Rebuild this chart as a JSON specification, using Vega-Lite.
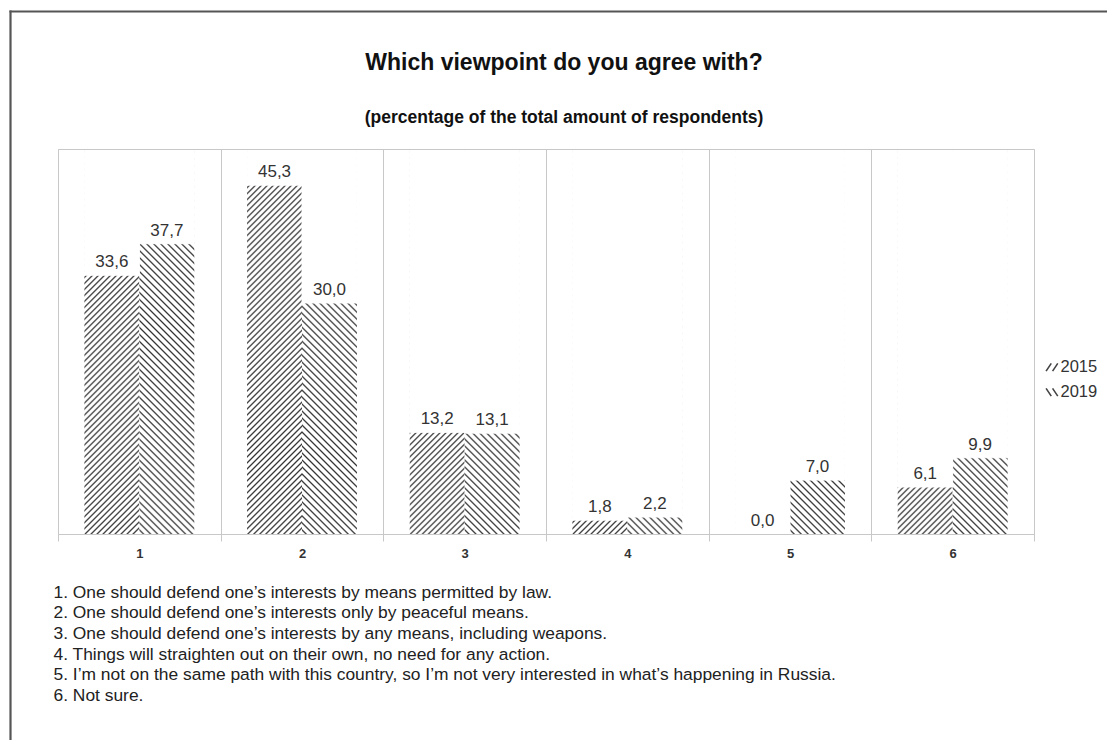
{
  "$schema": "https://vega.github.io/schema/vega-lite/v6.json",
  "width": 976,
  "height": 385,
  "autosize": "none",
  "padding": {"left": 58, "top": 149, "right": 73, "bottom": 206},
  "background": "white",
  "title": {
    "text": "Which viewpoint do you agree with?",
    "subtitle": "(percentage of the total amount of respondents)",
    "anchor": "middle",
    "frame": "group",
    "dx": 18,
    "offset": -115,
    "fontSize": 23,
    "fontWeight": "bold",
    "color": "#111",
    "subtitleFontSize": 17.5,
    "subtitleFontWeight": "bold",
    "subtitleColor": "#111",
    "subtitlePadding": 34
  },
  "data": {
    "values": [
      {"option": "1", "year": "2015", "value": 33.6},
      {"option": "1", "year": "2019", "value": 37.7},
      {"option": "2", "year": "2015", "value": 45.3},
      {"option": "2", "year": "2019", "value": 30.0},
      {"option": "3", "year": "2015", "value": 13.2},
      {"option": "3", "year": "2019", "value": 13.1},
      {"option": "4", "year": "2015", "value": 1.8},
      {"option": "4", "year": "2019", "value": 2.2},
      {"option": "5", "year": "2015", "value": 0.0},
      {"option": "5", "year": "2019", "value": 7.0},
      {"option": "6", "year": "2015", "value": 6.1},
      {"option": "6", "year": "2019", "value": 9.9}
    ]
  },
  "layer": [
    {
      "encoding": {
        "x": {
          "field": "option",
          "type": "nominal",
          "scale": {"paddingInner": 0, "paddingOuter": 0},
          "axis": {
            "title": [
              "1. One should defend one’s interests by means permitted by law.",
              "2. One should defend one’s interests only by peaceful means.",
              "3. One should defend one’s interests by any means, including weapons.",
              "4. Things will straighten out on their own, no need for any action.",
              "5. I’m not on the same path with this country, so I’m not very interested in what’s happening in Russia.",
              "6. Not sure."
            ],
            "titleAnchor": "start",
            "titleAlign": "left",
            "titleBaseline": "alphabetic",
            "titleX": -5,
            "titleY": 63,
            "titleFontSize": 17.4,
            "titleFontWeight": "normal",
            "titleColor": "#222",
            "titleLineHeight": 20.7,
            "labelAngle": 0,
            "labelFontSize": 13,
            "labelFontWeight": "bold",
            "labelColor": "#333",
            "labelPadding": 6,
            "tickBand": "extent",
            "tickSize": 7,
            "tickColor": "#c8c8c8",
            "domainColor": "#c8c8c8",
            "grid": true,
            "gridColor": "#c8c8c8",
            "zindex": 1
          }
        },
        "xOffset": {
          "field": "year",
          "type": "nominal",
          "scale": {"paddingInner": 0, "paddingOuter": 0.48}
        }
      },
      "layer": [
        {
          "transform": [{"filter": "datum.year === '2015'"}],
          "mark": {
            "type": "bar",
            "yOffset": 1,
            "fill": {
              "gradient": "linear",
              "x1": 0, "y1": 0, "x2": 0.1817, "y2": 1.2728,
              "stops": [
                {"offset":0,"color":"#fff"},{"offset":0.0035,"color":"#333"},{"offset":0.007,"color":"#fff"},
                {"offset":0.012,"color":"#fff"},{"offset":0.0155,"color":"#333"},{"offset":0.019,"color":"#fff"},
                {"offset":0.024,"color":"#fff"},{"offset":0.0275,"color":"#333"},{"offset":0.031,"color":"#fff"},
                {"offset":0.036,"color":"#fff"},{"offset":0.0395,"color":"#333"},{"offset":0.043,"color":"#fff"},
                {"offset":0.048,"color":"#fff"},{"offset":0.0515,"color":"#333"},{"offset":0.055,"color":"#fff"},
                {"offset":0.06,"color":"#fff"},{"offset":0.0635,"color":"#333"},{"offset":0.067,"color":"#fff"},
                {"offset":0.072,"color":"#fff"},{"offset":0.0755,"color":"#333"},{"offset":0.079,"color":"#fff"},
                {"offset":0.084,"color":"#fff"},{"offset":0.0875,"color":"#333"},{"offset":0.091,"color":"#fff"},
                {"offset":0.096,"color":"#fff"},{"offset":0.0995,"color":"#333"},{"offset":0.103,"color":"#fff"},
                {"offset":0.108,"color":"#fff"},{"offset":0.1115,"color":"#333"},{"offset":0.115,"color":"#fff"},
                {"offset":0.12,"color":"#fff"},{"offset":0.1235,"color":"#333"},{"offset":0.127,"color":"#fff"},
                {"offset":0.132,"color":"#fff"},{"offset":0.1355,"color":"#333"},{"offset":0.139,"color":"#fff"},
                {"offset":0.144,"color":"#fff"},{"offset":0.1475,"color":"#333"},{"offset":0.151,"color":"#fff"},
                {"offset":0.156,"color":"#fff"},{"offset":0.1595,"color":"#333"},{"offset":0.163,"color":"#fff"},
                {"offset":0.168,"color":"#fff"},{"offset":0.1715,"color":"#333"},{"offset":0.175,"color":"#fff"},
                {"offset":0.18,"color":"#fff"},{"offset":0.1835,"color":"#333"},{"offset":0.187,"color":"#fff"},
                {"offset":0.192,"color":"#fff"},{"offset":0.1955,"color":"#333"},{"offset":0.199,"color":"#fff"},
                {"offset":0.204,"color":"#fff"},{"offset":0.2075,"color":"#333"},{"offset":0.211,"color":"#fff"},
                {"offset":0.216,"color":"#fff"},{"offset":0.2195,"color":"#333"},{"offset":0.223,"color":"#fff"},
                {"offset":0.228,"color":"#fff"},{"offset":0.2315,"color":"#333"},{"offset":0.235,"color":"#fff"},
                {"offset":0.24,"color":"#fff"},{"offset":0.2435,"color":"#333"},{"offset":0.247,"color":"#fff"},
                {"offset":0.252,"color":"#fff"},{"offset":0.2555,"color":"#333"},{"offset":0.259,"color":"#fff"},
                {"offset":0.264,"color":"#fff"},{"offset":0.2675,"color":"#333"},{"offset":0.271,"color":"#fff"},
                {"offset":0.276,"color":"#fff"},{"offset":0.2795,"color":"#333"},{"offset":0.283,"color":"#fff"},
                {"offset":0.288,"color":"#fff"},{"offset":0.2915,"color":"#333"},{"offset":0.295,"color":"#fff"},
                {"offset":0.3,"color":"#fff"},{"offset":0.3035,"color":"#333"},{"offset":0.307,"color":"#fff"},
                {"offset":0.312,"color":"#fff"},{"offset":0.3155,"color":"#333"},{"offset":0.319,"color":"#fff"},
                {"offset":0.324,"color":"#fff"},{"offset":0.3275,"color":"#333"},{"offset":0.331,"color":"#fff"},
                {"offset":0.336,"color":"#fff"},{"offset":0.3395,"color":"#333"},{"offset":0.343,"color":"#fff"},
                {"offset":0.348,"color":"#fff"},{"offset":0.3515,"color":"#333"},{"offset":0.355,"color":"#fff"},
                {"offset":0.36,"color":"#fff"},{"offset":0.3635,"color":"#333"},{"offset":0.367,"color":"#fff"},
                {"offset":0.372,"color":"#fff"},{"offset":0.3755,"color":"#333"},{"offset":0.379,"color":"#fff"},
                {"offset":0.384,"color":"#fff"},{"offset":0.3875,"color":"#333"},{"offset":0.391,"color":"#fff"},
                {"offset":0.396,"color":"#fff"},{"offset":0.3995,"color":"#333"},{"offset":0.403,"color":"#fff"},
                {"offset":0.408,"color":"#fff"},{"offset":0.4115,"color":"#333"},{"offset":0.415,"color":"#fff"},
                {"offset":0.42,"color":"#fff"},{"offset":0.4235,"color":"#333"},{"offset":0.427,"color":"#fff"},
                {"offset":0.432,"color":"#fff"},{"offset":0.4355,"color":"#333"},{"offset":0.439,"color":"#fff"},
                {"offset":0.444,"color":"#fff"},{"offset":0.4475,"color":"#333"},{"offset":0.451,"color":"#fff"},
                {"offset":0.456,"color":"#fff"},{"offset":0.4595,"color":"#333"},{"offset":0.463,"color":"#fff"},
                {"offset":0.468,"color":"#fff"},{"offset":0.4715,"color":"#333"},{"offset":0.475,"color":"#fff"},
                {"offset":0.48,"color":"#fff"},{"offset":0.4835,"color":"#333"},{"offset":0.487,"color":"#fff"},
                {"offset":0.492,"color":"#fff"},{"offset":0.4955,"color":"#333"},{"offset":0.499,"color":"#fff"},
                {"offset":0.504,"color":"#fff"},{"offset":0.5075,"color":"#333"},{"offset":0.511,"color":"#fff"},
                {"offset":0.516,"color":"#fff"},{"offset":0.5195,"color":"#333"},{"offset":0.523,"color":"#fff"},
                {"offset":0.528,"color":"#fff"},{"offset":0.5315,"color":"#333"},{"offset":0.535,"color":"#fff"},
                {"offset":0.54,"color":"#fff"},{"offset":0.5435,"color":"#333"},{"offset":0.547,"color":"#fff"},
                {"offset":0.552,"color":"#fff"},{"offset":0.5555,"color":"#333"},{"offset":0.559,"color":"#fff"},
                {"offset":0.564,"color":"#fff"},{"offset":0.5675,"color":"#333"},{"offset":0.571,"color":"#fff"},
                {"offset":0.576,"color":"#fff"},{"offset":0.5795,"color":"#333"},{"offset":0.583,"color":"#fff"},
                {"offset":0.588,"color":"#fff"},{"offset":0.5915,"color":"#333"},{"offset":0.595,"color":"#fff"},
                {"offset":0.6,"color":"#fff"},{"offset":0.6035,"color":"#333"},{"offset":0.607,"color":"#fff"},
                {"offset":0.612,"color":"#fff"},{"offset":0.6155,"color":"#333"},{"offset":0.619,"color":"#fff"},
                {"offset":0.624,"color":"#fff"},{"offset":0.6275,"color":"#333"},{"offset":0.631,"color":"#fff"},
                {"offset":0.636,"color":"#fff"},{"offset":0.6395,"color":"#333"},{"offset":0.643,"color":"#fff"},
                {"offset":0.648,"color":"#fff"},{"offset":0.6515,"color":"#333"},{"offset":0.655,"color":"#fff"},
                {"offset":0.66,"color":"#fff"},{"offset":0.6635,"color":"#333"},{"offset":0.667,"color":"#fff"},
                {"offset":0.672,"color":"#fff"},{"offset":0.6755,"color":"#333"},{"offset":0.679,"color":"#fff"},
                {"offset":0.684,"color":"#fff"},{"offset":0.6875,"color":"#333"},{"offset":0.691,"color":"#fff"},
                {"offset":0.696,"color":"#fff"},{"offset":0.6995,"color":"#333"},{"offset":0.703,"color":"#fff"},
                {"offset":0.708,"color":"#fff"},{"offset":0.7115,"color":"#333"},{"offset":0.715,"color":"#fff"},
                {"offset":0.72,"color":"#fff"},{"offset":0.7235,"color":"#333"},{"offset":0.727,"color":"#fff"},
                {"offset":0.732,"color":"#fff"},{"offset":0.7355,"color":"#333"},{"offset":0.739,"color":"#fff"},
                {"offset":0.744,"color":"#fff"},{"offset":0.7475,"color":"#333"},{"offset":0.751,"color":"#fff"},
                {"offset":0.756,"color":"#fff"},{"offset":0.7595,"color":"#333"},{"offset":0.763,"color":"#fff"},
                {"offset":0.768,"color":"#fff"},{"offset":0.7715,"color":"#333"},{"offset":0.775,"color":"#fff"},
                {"offset":0.78,"color":"#fff"},{"offset":0.7835,"color":"#333"},{"offset":0.787,"color":"#fff"},
                {"offset":0.792,"color":"#fff"},{"offset":0.7955,"color":"#333"},{"offset":0.799,"color":"#fff"},
                {"offset":0.804,"color":"#fff"},{"offset":0.8075,"color":"#333"},{"offset":0.811,"color":"#fff"},
                {"offset":0.816,"color":"#fff"},{"offset":0.8195,"color":"#333"},{"offset":0.823,"color":"#fff"},
                {"offset":0.828,"color":"#fff"},{"offset":0.8315,"color":"#333"},{"offset":0.835,"color":"#fff"},
                {"offset":0.84,"color":"#fff"},{"offset":0.8435,"color":"#333"},{"offset":0.847,"color":"#fff"},
                {"offset":0.852,"color":"#fff"},{"offset":0.8555,"color":"#333"},{"offset":0.859,"color":"#fff"},
                {"offset":0.864,"color":"#fff"},{"offset":0.8675,"color":"#333"},{"offset":0.871,"color":"#fff"}
              ]
            }
          },
          "encoding": {
            "y": {"datum": 50, "type": "quantitative", "scale": {"domain": [0, 50]}, "axis": null},
            "y2": {"datum": 0}
          }
        },
        {
          "transform": [{"filter": "datum.year === '2019'"}],
          "mark": {
            "type": "bar",
            "yOffset": 1,
            "fill": {
              "gradient": "linear",
              "x1": 1, "y1": 0, "x2": 0.8183, "y2": 1.2728,
              "stops": [
                {"offset":0,"color":"#fff"},{"offset":0.0035,"color":"#333"},{"offset":0.007,"color":"#fff"},
                {"offset":0.014,"color":"#fff"},{"offset":0.0175,"color":"#333"},{"offset":0.021,"color":"#fff"},
                {"offset":0.028,"color":"#fff"},{"offset":0.0315,"color":"#333"},{"offset":0.035,"color":"#fff"},
                {"offset":0.042,"color":"#fff"},{"offset":0.0455,"color":"#333"},{"offset":0.049,"color":"#fff"},
                {"offset":0.056,"color":"#fff"},{"offset":0.0595,"color":"#333"},{"offset":0.063,"color":"#fff"},
                {"offset":0.07,"color":"#fff"},{"offset":0.0735,"color":"#333"},{"offset":0.077,"color":"#fff"},
                {"offset":0.084,"color":"#fff"},{"offset":0.0875,"color":"#333"},{"offset":0.091,"color":"#fff"},
                {"offset":0.098,"color":"#fff"},{"offset":0.1015,"color":"#333"},{"offset":0.105,"color":"#fff"},
                {"offset":0.112,"color":"#fff"},{"offset":0.1155,"color":"#333"},{"offset":0.119,"color":"#fff"},
                {"offset":0.126,"color":"#fff"},{"offset":0.1295,"color":"#333"},{"offset":0.133,"color":"#fff"},
                {"offset":0.14,"color":"#fff"},{"offset":0.1435,"color":"#333"},{"offset":0.147,"color":"#fff"},
                {"offset":0.154,"color":"#fff"},{"offset":0.1575,"color":"#333"},{"offset":0.161,"color":"#fff"},
                {"offset":0.168,"color":"#fff"},{"offset":0.1715,"color":"#333"},{"offset":0.175,"color":"#fff"},
                {"offset":0.182,"color":"#fff"},{"offset":0.1855,"color":"#333"},{"offset":0.189,"color":"#fff"},
                {"offset":0.196,"color":"#fff"},{"offset":0.1995,"color":"#333"},{"offset":0.203,"color":"#fff"},
                {"offset":0.21,"color":"#fff"},{"offset":0.2135,"color":"#333"},{"offset":0.217,"color":"#fff"},
                {"offset":0.224,"color":"#fff"},{"offset":0.2275,"color":"#333"},{"offset":0.231,"color":"#fff"},
                {"offset":0.238,"color":"#fff"},{"offset":0.2415,"color":"#333"},{"offset":0.245,"color":"#fff"},
                {"offset":0.252,"color":"#fff"},{"offset":0.2555,"color":"#333"},{"offset":0.259,"color":"#fff"},
                {"offset":0.266,"color":"#fff"},{"offset":0.2695,"color":"#333"},{"offset":0.273,"color":"#fff"},
                {"offset":0.28,"color":"#fff"},{"offset":0.2835,"color":"#333"},{"offset":0.287,"color":"#fff"},
                {"offset":0.294,"color":"#fff"},{"offset":0.2975,"color":"#333"},{"offset":0.301,"color":"#fff"},
                {"offset":0.308,"color":"#fff"},{"offset":0.3115,"color":"#333"},{"offset":0.315,"color":"#fff"},
                {"offset":0.322,"color":"#fff"},{"offset":0.3255,"color":"#333"},{"offset":0.329,"color":"#fff"},
                {"offset":0.336,"color":"#fff"},{"offset":0.3395,"color":"#333"},{"offset":0.343,"color":"#fff"},
                {"offset":0.35,"color":"#fff"},{"offset":0.3535,"color":"#333"},{"offset":0.357,"color":"#fff"},
                {"offset":0.364,"color":"#fff"},{"offset":0.3675,"color":"#333"},{"offset":0.371,"color":"#fff"},
                {"offset":0.378,"color":"#fff"},{"offset":0.3815,"color":"#333"},{"offset":0.385,"color":"#fff"},
                {"offset":0.392,"color":"#fff"},{"offset":0.3955,"color":"#333"},{"offset":0.399,"color":"#fff"},
                {"offset":0.406,"color":"#fff"},{"offset":0.4095,"color":"#333"},{"offset":0.413,"color":"#fff"},
                {"offset":0.42,"color":"#fff"},{"offset":0.4235,"color":"#333"},{"offset":0.427,"color":"#fff"},
                {"offset":0.434,"color":"#fff"},{"offset":0.4375,"color":"#333"},{"offset":0.441,"color":"#fff"},
                {"offset":0.448,"color":"#fff"},{"offset":0.4515,"color":"#333"},{"offset":0.455,"color":"#fff"},
                {"offset":0.462,"color":"#fff"},{"offset":0.4655,"color":"#333"},{"offset":0.469,"color":"#fff"},
                {"offset":0.476,"color":"#fff"},{"offset":0.4795,"color":"#333"},{"offset":0.483,"color":"#fff"},
                {"offset":0.49,"color":"#fff"},{"offset":0.4935,"color":"#333"},{"offset":0.497,"color":"#fff"},
                {"offset":0.504,"color":"#fff"},{"offset":0.5075,"color":"#333"},{"offset":0.511,"color":"#fff"},
                {"offset":0.518,"color":"#fff"},{"offset":0.5215,"color":"#333"},{"offset":0.525,"color":"#fff"},
                {"offset":0.532,"color":"#fff"},{"offset":0.5355,"color":"#333"},{"offset":0.539,"color":"#fff"},
                {"offset":0.546,"color":"#fff"},{"offset":0.5495,"color":"#333"},{"offset":0.553,"color":"#fff"},
                {"offset":0.56,"color":"#fff"},{"offset":0.5635,"color":"#333"},{"offset":0.567,"color":"#fff"},
                {"offset":0.574,"color":"#fff"},{"offset":0.5775,"color":"#333"},{"offset":0.581,"color":"#fff"},
                {"offset":0.588,"color":"#fff"},{"offset":0.5915,"color":"#333"},{"offset":0.595,"color":"#fff"},
                {"offset":0.602,"color":"#fff"},{"offset":0.6055,"color":"#333"},{"offset":0.609,"color":"#fff"},
                {"offset":0.616,"color":"#fff"},{"offset":0.6195,"color":"#333"},{"offset":0.623,"color":"#fff"},
                {"offset":0.63,"color":"#fff"},{"offset":0.6335,"color":"#333"},{"offset":0.637,"color":"#fff"},
                {"offset":0.644,"color":"#fff"},{"offset":0.6475,"color":"#333"},{"offset":0.651,"color":"#fff"},
                {"offset":0.658,"color":"#fff"},{"offset":0.6615,"color":"#333"},{"offset":0.665,"color":"#fff"},
                {"offset":0.672,"color":"#fff"},{"offset":0.6755,"color":"#333"},{"offset":0.679,"color":"#fff"},
                {"offset":0.686,"color":"#fff"},{"offset":0.6895,"color":"#333"},{"offset":0.693,"color":"#fff"},
                {"offset":0.7,"color":"#fff"},{"offset":0.7035,"color":"#333"},{"offset":0.707,"color":"#fff"},
                {"offset":0.714,"color":"#fff"},{"offset":0.7175,"color":"#333"},{"offset":0.721,"color":"#fff"},
                {"offset":0.728,"color":"#fff"},{"offset":0.7315,"color":"#333"},{"offset":0.735,"color":"#fff"},
                {"offset":0.742,"color":"#fff"},{"offset":0.7455,"color":"#333"},{"offset":0.749,"color":"#fff"},
                {"offset":0.756,"color":"#fff"},{"offset":0.7595,"color":"#333"},{"offset":0.763,"color":"#fff"},
                {"offset":0.77,"color":"#fff"},{"offset":0.7735,"color":"#333"},{"offset":0.777,"color":"#fff"},
                {"offset":0.784,"color":"#fff"},{"offset":0.7875,"color":"#333"},{"offset":0.791,"color":"#fff"},
                {"offset":0.798,"color":"#fff"},{"offset":0.8015,"color":"#333"},{"offset":0.805,"color":"#fff"},
                {"offset":0.812,"color":"#fff"},{"offset":0.8155,"color":"#333"},{"offset":0.819,"color":"#fff"},
                {"offset":0.826,"color":"#fff"},{"offset":0.8295,"color":"#333"},{"offset":0.833,"color":"#fff"},
                {"offset":0.84,"color":"#fff"},{"offset":0.8435,"color":"#333"},{"offset":0.847,"color":"#fff"},
                {"offset":0.854,"color":"#fff"},{"offset":0.8575,"color":"#333"},{"offset":0.861,"color":"#fff"},
                {"offset":0.868,"color":"#fff"},{"offset":0.8715,"color":"#333"},{"offset":0.875,"color":"#fff"}
              ]
            }
          },
          "encoding": {
            "y": {"datum": 50, "type": "quantitative", "scale": {"domain": [0, 50]}, "axis": null},
            "y2": {"datum": 0}
          }
        },
        {
          "mark": {"type": "bar", "fill": "white", "stroke": "white", "strokeWidth": 1, "y2Offset": 1.5},
          "encoding": {
            "y": {"field": "value", "type": "quantitative", "scale": {"domain": [0, 50]}, "axis": null},
            "y2": {"datum": 50}
          }
        },
        {
          "mark": {"type": "text", "baseline": "alphabetic", "dy": -8, "fontSize": 17, "color": "#333"},
          "encoding": {
            "y": {"field": "value", "type": "quantitative", "scale": {"domain": [0, 50]}, "axis": null},
            "text": {"field": "value", "type": "quantitative", "format": ".1f"}
          }
        },
        {
          "mark": {"type": "point", "filled": false, "opacity": 0, "color": "#444"},
          "encoding": {
            "y": {"field": "value", "type": "quantitative", "scale": {"domain": [0, 50]}, "axis": null},
            "shape": {
              "field": "year",
              "type": "nominal",
              "scale": {
                "domain": ["2015", "2019"],
                "range": ["M-0.95,0.6L-0.15,-0.6M0.05,0.6L0.85,-0.6", "M-0.95,-0.6L-0.15,0.6M0.05,-0.6L0.85,0.6"]
              },
              "legend": {
                "title": null,
                "orient": "none",
                "legendX": 986,
                "legendY": 210,
                "padding": 0,
                "labelFontSize": 16.5,
                "labelColor": "#333",
                "labelOffset": 0,
                "rowPadding": 8,
                "symbolSize": 169,
                "symbolStrokeWidth": 1.6,
                "symbolStrokeColor": "#444",
                "symbolFillColor": "transparent",
                "symbolOpacity": 1
              }
            }
          }
        }
      ]
    },
    {
      "mark": {"type": "point", "opacity": 0},
      "encoding": {
        "x": {
          "field": "value",
          "type": "quantitative",
          "scale": {"range": [-49, 1070]},
          "axis": {"orient": "top", "offset": 138, "domainColor": "#555", "domainWidth": 2.2, "ticks": false, "labels": false, "grid": false, "title": null}
        },
        "y": {
          "field": "value",
          "type": "quantitative",
          "scale": {"range": [600, -139]},
          "axis": {"orient": "left", "offset": 48, "domainColor": "#555", "domainWidth": 2.2, "ticks": false, "labels": false, "grid": false, "title": null}
        }
      }
    }
  ],
  "resolve": {"scale": {"x": "independent", "y": "independent"}},
  "config": {
    "font": "Liberation Sans",
    "view": {"stroke": "#c8c8c8", "strokeWidth": 1},
    "locale": {
      "number": {"decimal": ",", "thousands": " ", "grouping": [3], "currency": ["", ""]}
    }
  }
}
